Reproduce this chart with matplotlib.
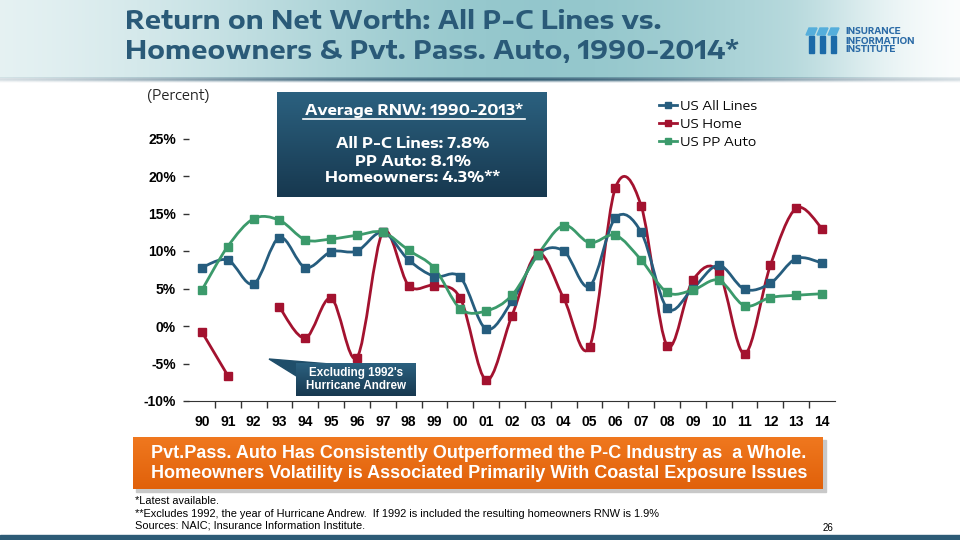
import matplotlib
matplotlib.use("Agg")
import matplotlib.pyplot as plt
import numpy as np
from matplotlib.path import Path
from matplotlib.patches import PathPatch, Rectangle, Polygon
from matplotlib.lines import Line2D

# data (percent), 1990-2014
years = ['90', '91', '92', '93', '94', '95', '96', '97', '98', '99', '00', '01', '02',
         '03', '04', '05', '06', '07', '08', '09', '10', '11', '12', '13', '14']
all_lines = [7.8, 8.8, 5.6, 11.8, 7.8, 9.9, 10.0, 12.5, 8.8, 6.6, 6.5, -0.4, 3.3,
             9.5, 10.0, 5.3, 14.4, 12.5, 2.4, 5.0, 8.1, 4.9, 5.7, 9.0, 8.4]
home = [-0.8, -6.6, None, 2.5, -1.6, 3.7, -4.2, 12.5, 5.4, 5.4, 3.7, -7.2, 1.4,
        9.7, 3.7, -2.8, 18.4, 16.0, -2.6, 6.1, 7.2, -3.7, 8.1, 15.7, 13.0]
pp_auto = [4.8, 10.6, 14.3, 14.1, 11.5, 11.6, 12.1, 12.5, 10.1, 7.7, 2.3, 2.0, 4.1,
           9.5, 13.4, 11.1, 12.1, 8.8, 4.5, 4.8, 6.1, 2.7, 3.8, 4.1, 4.3]
series_names = ['US All Lines', 'US Home', 'US PP Auto']
y_ticks = [-10, -5, 0, 5, 10, 15, 20, 25]

c_blue = '#265d7e'
c_red = '#a3122f'
c_green = '#3b9a6b'
c_title = '#2a5a78'

plt.rcParams['font.family'] = ['Liberation Sans', 'DejaVu Sans']
wide = ['Encode Sans Expanded', 'Liberation Sans', 'DejaVu Sans']

fig = plt.figure(figsize=(9.6, 5.4), dpi=100)

# background layer in pixel coords
bg = fig.add_axes([0, 0, 1, 1], zorder=0)
bg.set_xlim(0, 960)
bg.set_ylim(540, 0)
bg.axis('off')

xs = np.arange(960)
w = 0.15 + 0.85 * np.exp(-((xs - 540) / 360.0) ** 2)
w[xs > 780] *= np.exp(-((xs[xs > 780] - 780) / 120.0) ** 2)
teal = np.array([0.58, 0.78, 0.80])
hdr = np.ones((78, 960, 3)) * (1 - w[None, :, None]) + teal[None, None, :] * w[None, :, None]
bg.imshow(hdr, extent=(0, 960, 78, 0), aspect='auto', zorder=0)
w2 = np.exp(-((xs - 480) / 380.0) ** 2)
dark = np.array([0.20, 0.37, 0.46])
shade = np.zeros((6, 960, 4))
shade[:, :, :3] = dark
rows = np.array([0.5, 0.9, 1.0, 0.8, 0.4, 0.12])
shade[:, :, 3] = rows[:, None] * w2[None, :]
bg.imshow(shade, extent=(0, 960, 83, 77), aspect='auto', zorder=1)

# title
bg.text(125, 29, 'Return on Net Worth: All P-C Lines vs.', fontsize=18.5, fontweight='bold',
        color=c_title, family=wide, va='baseline', ha='left')
bg.text(125, 59, 'Homeowners & Pvt. Pass. Auto, 1990-2014*', fontsize=18.5, fontweight='bold',
        color=c_title, family=wide, va='baseline', ha='left')

# logo
for x0 in [807, 818, 829]:
    bg.add_patch(Polygon([(x0 + 2, 28), (x0 + 10, 28), (x0 + 7, 35), (x0 - 1, 35)],
                         closed=True, color='#55aedb', zorder=2))
    bg.add_patch(Rectangle((x0 + 2, 36), 5, 17, color='#1b6aa8', zorder=2))
bg.text(845, 32, 'INSURANCE', fontsize=6.1, fontweight='bold', color='#2a6aa6', family=wide, va='center')
bg.text(845, 41, 'INFORMATION', fontsize=6.1, fontweight='bold', color='#2a6aa6', family=wide, va='center')
bg.text(845, 50, 'INSTITUTE', fontsize=6.1, fontweight='bold', color='#2a6aa6', family=wide, va='center')

bg.text(147, 96, '(Percent)', fontsize=9.8, color='#222222', family=wide, va='center', ha='left')

# main chart
ax = fig.add_axes([189 / 960, 1 - 401 / 540, (835 - 189) / 960, 300 / 540], zorder=2)
ax.patch.set_alpha(0)
x = np.arange(len(years))


def smooth_path(xv, yv):
    pts = np.column_stack([xv, yv]).astype(float)
    n = len(pts)
    verts = [pts[0]]
    codes = [Path.MOVETO]
    for i in range(n - 1):
        p0 = pts[i - 1] if i > 0 else pts[i]
        p1 = pts[i]
        p2 = pts[i + 1]
        p3 = pts[i + 2] if i + 2 < n else pts[i + 1]
        verts += [p1 + (p2 - p0) / 6.0, p2 - (p3 - p1) / 6.0, p2]
        codes += [Path.CURVE4] * 3
    return Path(verts, codes)


def draw_series(vals, color):
    seg_x, seg_y = [], []
    for xi, v in zip(x, vals):
        if v is None:
            if len(seg_x) > 1:
                ax.add_patch(PathPatch(smooth_path(seg_x, seg_y), fill=False, ec=color, lw=2, zorder=3))
            seg_x, seg_y = [], []
        else:
            seg_x.append(xi)
            seg_y.append(v)
    if len(seg_x) > 1:
        ax.add_patch(PathPatch(smooth_path(seg_x, seg_y), fill=False, ec=color, lw=2, zorder=3))
    px = [xi for xi, v in zip(x, vals) if v is not None]
    py = [v for v in vals if v is not None]
    ax.plot(px, py, ls='none', marker='s', ms=5.5, color=color, zorder=4)


draw_series(home, c_red)
draw_series(all_lines, c_blue)
draw_series(pp_auto, c_green)

ax.set_xlim(-0.5, len(years) - 0.5)
ax.set_ylim(-10, 30)
ax.set_yticks(y_ticks)
ax.set_yticklabels([f'{v}%' for v in y_ticks], fontweight='bold')
ax.set_xticks(x)
ax.set_xticklabels(years, fontweight='bold')
ax.set_xticks(x[:-1] + 0.5, minor=True)
ax.tick_params(axis='x', which='major', length=0, pad=10, labelsize=10)
ax.tick_params(axis='x', which='minor', length=5, width=1, direction='out', color='#333333')
ax.tick_params(axis='y', length=4, width=1, pad=5.5, labelsize=10, color='#333333')
for s in ['top', 'right', 'left']:
    ax.spines[s].set_visible(False)
ax.spines['bottom'].set_color('#333333')

handles = [Line2D([], [], color=c, lw=2, marker='s', ms=4.5) for c in (c_blue, c_red, c_green)]
fig.legend(handles, series_names, loc='upper left', bbox_to_anchor=(659 / 960, 1 - 100 / 540),
           frameon=False, prop={'family': wide, 'size': 9.5}, handlelength=1.4,
           handletextpad=0.2, labelspacing=0.38, borderpad=0, borderaxespad=0)

# overlay layer
fg = fig.add_axes([0, 0, 1, 1], zorder=5)
fg.set_xlim(0, 960)
fg.set_ylim(540, 0)
fg.axis('off')

grad = np.linspace(0, 1, 100)[:, None]
box_cols = np.array([0.17, 0.38, 0.50])[None, None, :] * (1 - grad[:, :, None]) + \
    np.array([0.09, 0.22, 0.31])[None, None, :] * grad[:, :, None]
box_img = np.repeat(box_cols, 2, axis=1)
fg.imshow(box_img, extent=(277, 547, 197, 92), aspect='auto', zorder=1)
fg.text(414, 110, 'Average RNW: 1990-2013*', fontsize=10.8, fontweight='bold', color='white',
        family=wide, ha='center', va='center')
fg.plot([303, 525], [118.5, 118.5], color='white', lw=1.2)
fg.text(413, 143, 'All P-C Lines: 7.8%', fontsize=10.8, fontweight='bold', color='white',
        family=wide, ha='center', va='center')
fg.text(413, 161, 'PP Auto: 8.1%', fontsize=10.8, fontweight='bold', color='white',
        family=wide, ha='center', va='center')
fg.text(413, 178, 'Homeowners: 4.3%**', fontsize=10.8, fontweight='bold', color='white',
        family=wide, ha='center', va='center')

# callout
fg.add_patch(Polygon([(269, 359), (330, 364), (298, 377)], closed=True, color='#1f4e6a', zorder=1))
fg.imshow(box_img, extent=(296, 416, 396, 363), aspect='auto', zorder=2)
fg.text(356, 373, "Excluding 1992's", fontsize=8.4, fontweight='bold', color='white',
        ha='center', va='center', zorder=3)
fg.text(356, 386, 'Hurricane Andrew', fontsize=8.4, fontweight='bold', color='white',
        ha='center', va='center', zorder=3)

# orange banner
fg.add_patch(Rectangle((136, 440), 690, 52, color='#c8c8c8', zorder=1))
og = np.array([0.94, 0.47, 0.12])[None, None, :] * (1 - grad[:, :, None]) + \
    np.array([0.88, 0.38, 0.04])[None, None, :] * grad[:, :, None]
fg.imshow(np.repeat(og, 2, axis=1), extent=(133, 823, 489, 437), aspect='auto', zorder=2)
fg.text(479, 453, 'Pvt.Pass. Auto Has Consistently Outperformed the P-C Industry as  a Whole.',
        fontsize=13, fontweight='bold', color='white', ha='center', va='center', zorder=3)
fg.text(479, 473, 'Homeowners Volatility is Associated Primarily With Coastal Exposure Issues',
        fontsize=13, fontweight='bold', color='white', ha='center', va='center', zorder=3)

# footnotes
fg.text(135, 501, '*Latest available.', fontsize=7.9, va='center')
fg.text(135, 514, '**Excludes 1992, the year of Hurricane Andrew.  If 1992 is included the resulting homeowners RNW is 1.9%',
        fontsize=7.9, va='center')
fg.text(135, 526, 'Sources: NAIC; Insurance Information Institute.', fontsize=7.9, va='center')
fg.text(828, 528, '26', fontsize=7, va='center', ha='center')
fg.add_patch(Rectangle((0, 535), 960, 5, color='#2d5b76'))

fig.savefig('out.png', dpi=100)
